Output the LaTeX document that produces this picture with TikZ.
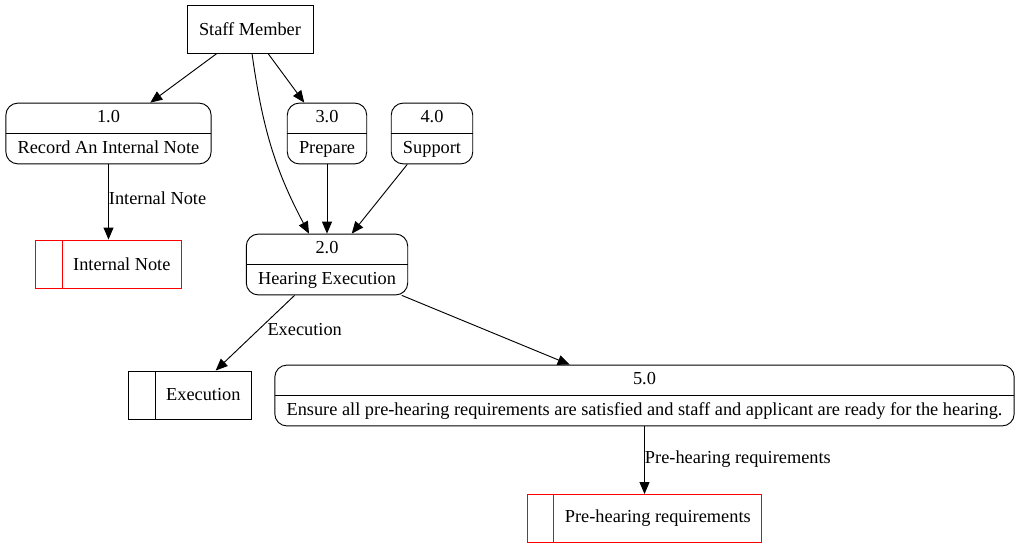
\documentclass[tikz,border=0pt]{standalone}
\usepackage{fontspec}
\setmainfont{Liberation Serif}
\usetikzlibrary{shapes.multipart,arrows.meta}
\begin{document}
\fontsize{13.75pt}{16.5pt}\selectfont
\begin{tikzpicture}[x=0.75pt,y=-0.75pt,line width=0.7pt,
    process/.style={draw,rectangle split,rectangle split parts=2,
      rounded corners=9pt,align=center,inner xsep=8.8pt,inner ysep=2.8pt},
    store/.style={draw=#1,minimum height=36pt,inner xsep=8.25pt,
      path picture={\draw[#1] ([xshift=20pt]path picture bounding box.north west)
        -- ([xshift=20pt]path picture bounding box.south west);}},
    store/.default=black,
    flow/.style={-{Triangle[length=9pt,width=7.5pt]}},
    lbl/.style={anchor=west,inner sep=0pt}]
  \useasboundingbox (0,0) rectangle (1019,549);
  % External entity
  \node[draw,minimum width=94.5pt,minimum height=36pt] (staff) at (250,29) {Staff Member};
  % Processes
  \node[process] (p1) at (108.5,133.5) {\strut 1.0\nodepart{two}\strut Record An Internal Note};
  \node[process] (p3) at (327,133.5) {\strut 3.0\nodepart{two}\strut Prepare};
  \node[process] (p4) at (432,133.5) {\strut 4.0\nodepart{two}\strut Support};
  \node[process] (p2) at (327,264.5) {\strut 2.0\nodepart{two}\strut Hearing Execution};
  \node[process] (p5) at (644.5,395.5) {\strut 5.0\nodepart{two}\strut Ensure all pre-hearing requirements are satisfied and staff and applicant are ready for the hearing.};
  % Data stores
  \node[store=red] (sNote) at (108.5,264) {\hspace*{20pt}Internal Note};
  \node[store] (sExec) at (190,395) {\hspace*{20pt}Execution};
  \node[store=red,draw=red] (sPre) at (644.5,518.5) {\hspace*{20pt}Pre-hearing requirements};
  % Flows
  \draw[flow] (staff) -- (p1);
  \draw[flow] (staff) -- (p3);
  \draw[flow] ([xshift=1.5pt]staff.south) to[out=-82,in=118] ([xshift=-13.5pt]p2.north);
  \draw[flow] (p3) -- (p2);
  \draw[flow] (p4) -- (p2);
  \draw[flow] (p1) -- node[lbl,pos=0.45] {Internal Note} (sNote);
  \draw[flow] (p2) -- node[lbl,pos=0.45,xshift=6pt] {Execution} (sExec);
  \draw[flow] (p2) -- (p5);
  \draw[flow] (p5) -- node[lbl,pos=0.49] {Pre-hearing requirements} (sPre);
\end{tikzpicture}
\end{document}
